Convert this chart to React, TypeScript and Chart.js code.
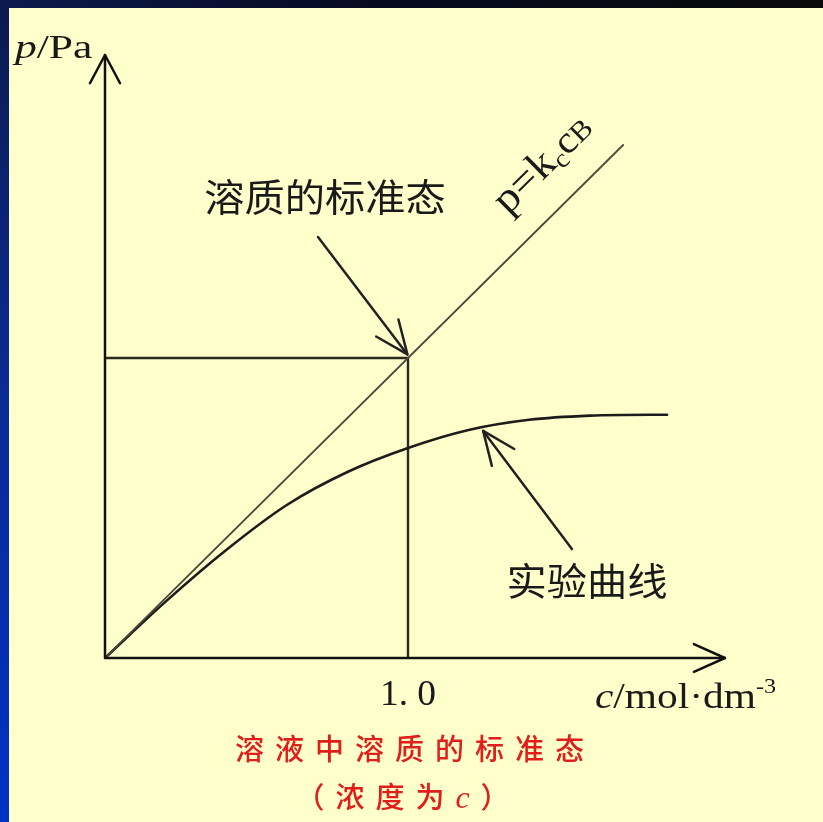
import React, { useEffect, useRef } from "react";
import { Chart, registerables } from "chart.js";

Chart.register(...registerables);

// Henry's-law ideal line p = k_c·c_B
const idealC = [0, 1.71];
const idealP = [0, 1.71];

// Measured (experimental) curve
const expC = [0, 0.2, 0.4, 0.6, 0.8, 1.0, 1.2, 1.4, 1.6, 1.8, 1.855];
const expP = [0, 0.188, 0.36, 0.51, 0.62, 0.7, 0.76, 0.794, 0.808, 0.811, 0.811];

// Standard-state guide lines (c = 1.0)
const guideC = [0, 1.0, 1.0];
const guideP = [1.0, 1.0, 0];

const tickLabels = ["1. 0"];
const tickValues = [1.0];

const SERIF = '"Liberation Serif", "Times New Roman", serif';
const CJK = '"Noto Sans CJK SC", "Noto Sans CJK JP", sans-serif';
const INK = "#1a1a1a";
const RED = "#e01f1a";

function arrowHead(
  ctx: CanvasRenderingContext2D,
  tx: number,
  ty: number,
  fx: number,
  fy: number,
  len: number,
  spread: number
) {
  const a = Math.atan2(ty - fy, tx - fx);
  ctx.beginPath();
  ctx.moveTo(tx - len * Math.cos(a - spread), ty - len * Math.sin(a - spread));
  ctx.lineTo(tx, ty);
  ctx.lineTo(tx - len * Math.cos(a + spread), ty - len * Math.sin(a + spread));
  ctx.stroke();
}

type Run = { t: string; font: string; dy?: number };

// draws a sequence of text runs, horizontally widened by sx; returns width
function runs(
  ctx: CanvasRenderingContext2D,
  parts: Run[],
  x: number,
  y: number,
  sx: number,
  align: "left" | "center" = "left",
  spacing = 0
) {
  ctx.save();
  ctx.textAlign = "left";
  ctx.textBaseline = "alphabetic";
  (ctx as any).letterSpacing = `${spacing}px`;
  let total = 0;
  for (const p of parts) {
    ctx.font = p.font;
    total += ctx.measureText(p.t).width;
  }
  ctx.translate(x, y);
  ctx.scale(sx, 1);
  let cx = align === "center" ? -total / 2 : 0;
  for (const p of parts) {
    ctx.font = p.font;
    ctx.fillText(p.t, cx, p.dy || 0);
    cx += ctx.measureText(p.t).width;
  }
  ctx.restore();
  return total * sx;
}

const decor = {
  id: "decor",
  afterDatasetsDraw(chart: any) {
    const ctx: CanvasRenderingContext2D = chart.ctx;
    const xs = chart.scales.x;
    const ys = chart.scales.y;
    const X = (v: number) => xs.getPixelForValue(v);
    const Y = (v: number) => ys.getPixelForValue(v);
    ctx.save();
    ctx.lineCap = "round";
    ctx.lineJoin = "round";

    // axes with open arrowheads
    ctx.strokeStyle = "#111";
    ctx.lineWidth = 2.5;
    ctx.beginPath();
    ctx.moveTo(X(0), Y(0));
    ctx.lineTo(X(2.046), Y(0));
    ctx.moveTo(X(0), Y(0));
    ctx.lineTo(X(0), Y(2.01));
    ctx.stroke();
    arrowHead(ctx, X(2.046), Y(0), X(0), Y(0), 34, 0.42);
    arrowHead(ctx, X(0), Y(2.01), X(0), Y(0), 32, 0.49);

    // annotation arrows
    ctx.lineWidth = 2.5;
    ctx.strokeStyle = "#222";
    const a1 = [0.703, 1.403, 0.998, 1.012];
    const a2 = [1.541, 0.363, 1.248, 0.757];
    for (const [fx, fy, tx, ty] of [a1, a2]) {
      ctx.beginPath();
      ctx.moveTo(X(fx), Y(fy));
      ctx.lineTo(X(tx), Y(ty));
      ctx.stroke();
      arrowHead(ctx, X(tx), Y(ty), X(fx), Y(fy), 36, 0.4);
    }

    ctx.fillStyle = INK;

    // CJK annotations
    runs(ctx, [{ t: "溶质的标准态", font: `38px ${CJK}` }], X(0.726), Y(1.49), 1.06, "center");
    runs(ctx, [{ t: "实验曲线", font: `38px ${CJK}` }], X(1.591), Y(0.21), 1.06, "center");

    // tick label
    tickValues.forEach((v, i) =>
      runs(ctx, [{ t: tickLabels[i], font: `36px ${SERIF}` }], X(v), Y(-0.157), 1.04, "center")
    );

    // axis titles
    runs(
      ctx,
      [
        { t: "p", font: `italic 34px ${SERIF}` },
        { t: "/Pa", font: `34px ${SERIF}` },
      ],
      X(-0.297),
      Y(2.0),
      1.28
    );
    runs(
      ctx,
      [
        { t: "c", font: `italic 36px ${SERIF}` },
        { t: "/mol·dm", font: `36px ${SERIF}` },
        { t: "-3", font: `21px ${SERIF}`, dy: -15 },
      ],
      X(1.617),
      Y(-0.167),
      1.15
    );

    // rotated line label p = k_c c_B
    const ang = Math.atan2(Y(0) - Y(1.71), X(1.71) - X(0));
    ctx.save();
    ctx.translate(X(1.33), Y(1.475));
    ctx.rotate(-ang);
    runs(
      ctx,
      [
        { t: "p=k", font: `42px ${SERIF}` },
        { t: "c", font: `26px ${SERIF}`, dy: 6 },
        { t: "c", font: `38px ${SERIF}` },
        { t: "B", font: `28px ${SERIF}` },
      ],
      0,
      0,
      1.08
    );
    ctx.restore();

    // red caption below the axis
    ctx.fillStyle = RED;
    runs(ctx, [{ t: "溶液中溶质的标准态", font: `500 29px ${CJK}` }], X(1.007) + 5, Y(-0.34), 1, "center", 11);
    runs(
      ctx,
      [
        { t: "（浓度为", font: `500 29px ${CJK}` },
        { t: "c", font: `italic 32px ${SERIF}` },
        { t: "）", font: `500 29px ${CJK}` },
      ],
      X(1.0),
      Y(-0.5),
      1,
      "center",
      11
    );
    ctx.restore();
  },
};

export default function App() {
  const ref = useRef<HTMLCanvasElement>(null);

  useEffect(() => {
    if (!ref.current) return;
    const pts = (xs: number[], ys: number[]) => xs.map((x, i) => ({ x, y: ys[i] }));
    const chart = new Chart(ref.current, {
      type: "scatter",
      data: {
        datasets: [
          {
            data: pts(idealC, idealP),
            showLine: true,
            borderColor: "#4a4a3c",
            borderWidth: 1.8,
            pointRadius: 0,
          },
          {
            data: pts(expC, expP),
            showLine: true,
            borderColor: "#1c1c1c",
            borderWidth: 2.6,
            pointRadius: 0,
            cubicInterpolationMode: "monotone",
          },
          {
            data: pts(guideC, guideP),
            showLine: true,
            borderColor: "#2a2a22",
            borderWidth: 2.4,
            pointRadius: 0,
          },
        ],
      },
      options: {
        animation: false,
        responsive: false,
        devicePixelRatio: 1,
        layout: { padding: { left: 96, right: 112, top: 50, bottom: 164 } },
        scales: {
          x: { type: "linear", min: 0, max: 2, display: false },
          y: { type: "linear", min: 0, max: 2, display: false },
        },
        plugins: { legend: { display: false }, tooltip: { enabled: false } },
        elements: { line: { borderCapStyle: "round" } },
      },
      plugins: [decor],
    });
    return () => chart.destroy();
  }, []);

  return (
    <div style={{ position: "fixed", left: 0, top: 0, width: 823, height: 822, background: "#ffffcc", overflow: "hidden" }}>
      <div style={{ position: "absolute", left: 0, top: 0, width: 823, height: 8, background: "linear-gradient(to right, #0b1a4e, #060a20 45%, #0a0a0a)" }} />
      <div style={{ position: "absolute", left: 0, top: 0, width: 9, height: 822, background: "linear-gradient(to bottom, #0b1a4e, #0a2a90 45%, #0032c4)" }} />
      <canvas ref={ref} width={814} height={814} style={{ position: "absolute", left: 9, top: 8, width: 814, height: 814 }} />
    </div>
  );
}
